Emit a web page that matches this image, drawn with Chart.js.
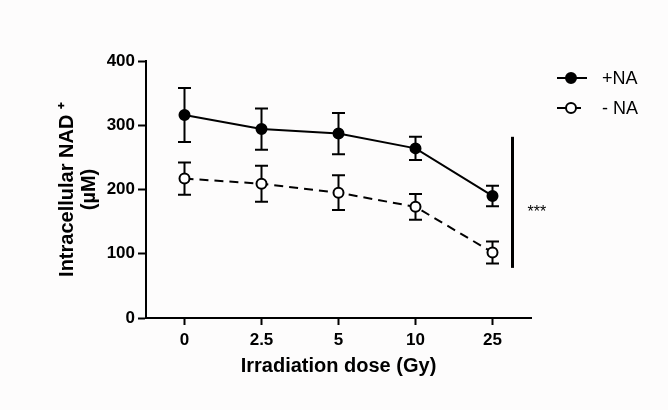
<!DOCTYPE html>
<html>
<head>
<meta charset="utf-8">
<script src="https://cdn.jsdelivr.net/npm/chart.js@4/dist/chart.umd.min.js"></script>
<style>
  body { margin: 0; background: #fdfcfc; }
  canvas { display: block; }
</style>
</head>
<body>
<canvas id="nadChart" width="668" height="410"></canvas>
<script>
const doses = ['0', '2.5', '5', '10', '25'];
const conNA = [316, 294, 287, 264, 190];
const conNAErr = [42, 32, 32, 18, 16];
const sinNA = [217, 209, 195, 173, 102];
const sinNAErr = [25, 28, 27, 20, 17];
const yTicks = [0, 100, 200, 300, 400];
const sigSpan = [78, 282];
const sigLabel = '***';

const fuente = 'Liberation Sans, Arial, sans-serif';
const ctx = document.getElementById('nadChart');

// barras de error, debajo de los marcadores
const errorBars = {
    id: 'errorBars',
    beforeDatasetsDraw(chart) {
        const c = chart.ctx;
        const y = chart.scales.y;
        c.save();
        c.strokeStyle = '#000';
        c.lineWidth = 2;
        chart.data.datasets.forEach((ds, i) => {
            const meta = chart.getDatasetMeta(i);
            meta.data.forEach((pt, j) => {
                const top = y.getPixelForValue(ds.data[j] + ds.errores[j]);
                const bot = y.getPixelForValue(ds.data[j] - ds.errores[j]);
                c.beginPath();
                c.moveTo(pt.x, top); c.lineTo(pt.x, bot);
                c.moveTo(pt.x - 6.5, top); c.lineTo(pt.x + 6.5, top);
                c.moveTo(pt.x - 6.5, bot); c.lineTo(pt.x + 6.5, bot);
                c.stroke();
            });
        });
        c.restore();
    }
};

// leyenda y barra de significancia
const extras = {
    id: 'extras',
    afterDraw(chart) {
        const c = chart.ctx;
        const area = chart.chartArea;
        const x = chart.scales.x;
        const y = chart.scales.y;
        c.save();
        chart.data.datasets.forEach((ds, i) => {
            const ly = 78 + i * 30;
            const lx = area.right + 26;
            c.strokeStyle = '#000';
            c.lineWidth = 2;
            c.setLineDash(ds.borderDash || []);
            c.beginPath();
            c.moveTo(lx, ly); c.lineTo(lx + 30, ly);
            c.stroke();
            c.setLineDash([]);
            c.beginPath();
            c.arc(lx + 14, ly, 5, 0, Math.PI * 2);
            c.fillStyle = ds.pointBackgroundColor;
            c.fill();
            c.stroke();
            c.fillStyle = '#000';
            c.font = '18px ' + fuente;
            c.textAlign = 'left';
            c.textBaseline = 'middle';
            c.fillText(ds.label, lx + 45, ly + 1);
        });
        const bx = x.getPixelForValue(4) + 20;
        const y1 = y.getPixelForValue(sigSpan[0]);
        const y2 = y.getPixelForValue(sigSpan[1]);
        c.lineWidth = 3;
        c.beginPath();
        c.moveTo(bx, y1); c.lineTo(bx, y2);
        c.stroke();
        c.font = '16px ' + fuente;
        c.textBaseline = 'middle';
        c.fillText(sigLabel, bx + 15, (y1 + y2) / 2 + 10);
        c.restore();
    }
};

new Chart(ctx, {
    type: 'line',
    data: {
        labels: doses,
        datasets: [{
            label: '+NA',
            data: conNA,
            errores: conNAErr,
            borderColor: '#000',
            borderWidth: 2,
            pointRadius: 5,
            pointBorderWidth: 2,
            pointBackgroundColor: '#000',
            pointBorderColor: '#000',
            tension: 0
        }, {
            label: '- NA',
            data: sinNA,
            errores: sinNAErr,
            borderColor: '#000',
            borderWidth: 2,
            borderDash: [9, 6],
            pointRadius: 5,
            pointBorderWidth: 2,
            pointBackgroundColor: '#fff',
            pointBorderColor: '#000',
            tension: 0
        }]
    },
    options: {
        responsive: false,
        animation: false,
        layout: { padding: { top: 61, right: 137, left: 0, bottom: 0 } },
        plugins: { legend: { display: false }, tooltip: { enabled: false } },
        scales: {
            x: {
                offset: true,
                grid: { offset: false, drawOnChartArea: false, tickLength: 7, tickWidth: 2, tickColor: '#000' },
                border: { color: '#000', width: 2 },
                ticks: { color: '#000', padding: 5, font: { family: fuente, size: 17, weight: 'bold' } },
                title: {
                    display: true,
                    text: 'Irradiation dose (Gy)',
                    color: '#000',
                    font: { family: fuente, size: 20, weight: 'bold' },
                    padding: { top: 0, bottom: 32 }
                },
                afterFit: (s) => { s.height = 92; }
            },
            y: {
                min: 0,
                max: 400,
                afterBuildTicks: (s) => { s.ticks = yTicks.map(v => ({ value: v })); },
                grid: { drawOnChartArea: false, tickLength: 8, tickWidth: 2, tickColor: '#000' },
                border: { color: '#000', width: 2 },
                ticks: { color: '#000', padding: 3, font: { family: fuente, size: 17, weight: 'bold' } },
                title: {
                    display: true,
                    text: ['Intracellular NAD \u207A', '(\u00B5M)'],
                    color: '#000',
                    font: { family: fuente, size: 20, weight: 'bold', lineHeight: 1.1 },
                    padding: { top: 56, bottom: 0 }
                },
                afterFit: (s) => { s.width = 146; }
            }
        }
    },
    plugins: [errorBars, extras]
});
</script>
</body>
</html>
